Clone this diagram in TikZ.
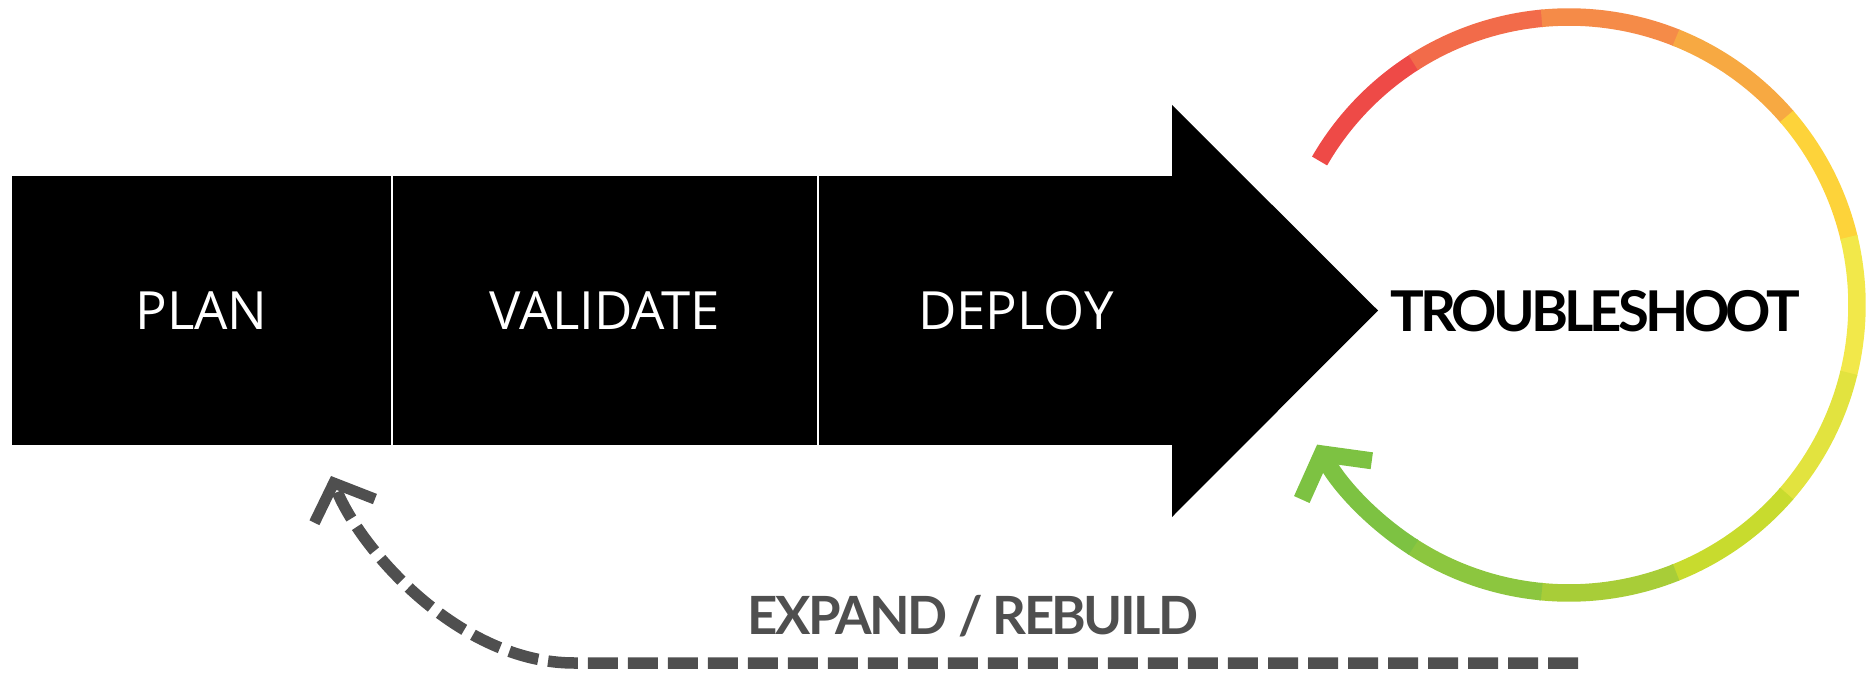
\documentclass[tikz,border=0pt]{standalone}
\usepackage{fontspec}
\usepackage{tikz}
\usetikzlibrary{arrows.meta}
\newfontfamily\stagefont{Open Sans}
\newfontfamily\latofont{Lato}[LetterSpace=-5]
\newfontfamily\latotight{Lato}[LetterSpace=-7]
\definecolor{ringA}{HTML}{EE4A47}
\definecolor{ringB}{HTML}{F26B4A}
\definecolor{ringC}{HTML}{F58B48}
\definecolor{ringD}{HTML}{F7A942}
\definecolor{ringE}{HTML}{FDD33A}
\definecolor{ringF}{HTML}{F2E84A}
\definecolor{ringG}{HTML}{E2E33F}
\definecolor{ringH}{HTML}{C8DB2E}
\definecolor{ringI}{HTML}{A8CD38}
\definecolor{ringJ}{HTML}{8CC63F}
\definecolor{ringK}{HTML}{7DC242}
\definecolor{loopgray}{HTML}{4F4F4F}

\begin{document}
\begin{tikzpicture}
	\tikzstyle{stage}=[rectangle,fill=black,draw=white,line width=0.6pt,outer sep=0pt,minimum height=2.71cm,text=white,font=\stagefont\fontsize{15}{18}\selectfont]
	\tikzstyle{ring}=[line width=0.175cm]
	\useasboundingbox (0,0) rectangle (18.75,6.72);
	\node[stage,minimum width=3.81cm] (plan) at (2.015,3.615) {PLAN};
	\node[stage,minimum width=4.26cm] (validate) at (6.05,3.615) {VALIDATE};
	\node[stage,minimum width=3.96cm] (deploy) at (10.16,3.615) {DEPLOY};
	\fill (11.72,5.67) -- (13.78,3.615) -- (11.72,1.55) -- cycle;
	\node[font=\latotight\bfseries\fontsize{16}{19}\selectfont] (troubleshoot) at (15.95,3.605) {TROUBLESHOOT};
	\foreach \c [count=\i from 0, evaluate=\i as \a using 150-27.27*\i] in {ringA,ringB,ringC,ringD,ringE,ringF,ringG,ringH,ringI,ringJ}
		\draw[ring,\c] (15.69,3.67) ++(\a:2.88) arc[start angle=\a,end angle=\a-27.6,radius=2.88];
	\draw[ring,ringK,-{Straight Barb[length=0.3cm,width=0.8cm,line width=0.17cm]}] (15.69,3.67) ++(-122.7:2.88) arc[start angle=-122.7,end angle=-151,radius=2.88];
	\coordinate (rebuild) at (15.78,0.09);
	\coordinate (back) at (3.31,1.96);
	\draw[loopgray,line width=0.115cm,dash pattern=on 0.3cm off 0.1cm,-{Straight Barb[length=0.3cm,width=0.65cm,line width=0.11cm]}] (rebuild) -- (5.74,0.09) .. controls (4.6,0.09) and (3.6,1.22) .. (back);
	\node[anchor=base,text=loopgray,font=\latofont\bfseries\fontsize{15}{18}\selectfont] (expand) at (9.73,0.38) {EXPAND / REBUILD};
\end{tikzpicture}
\end{document}
